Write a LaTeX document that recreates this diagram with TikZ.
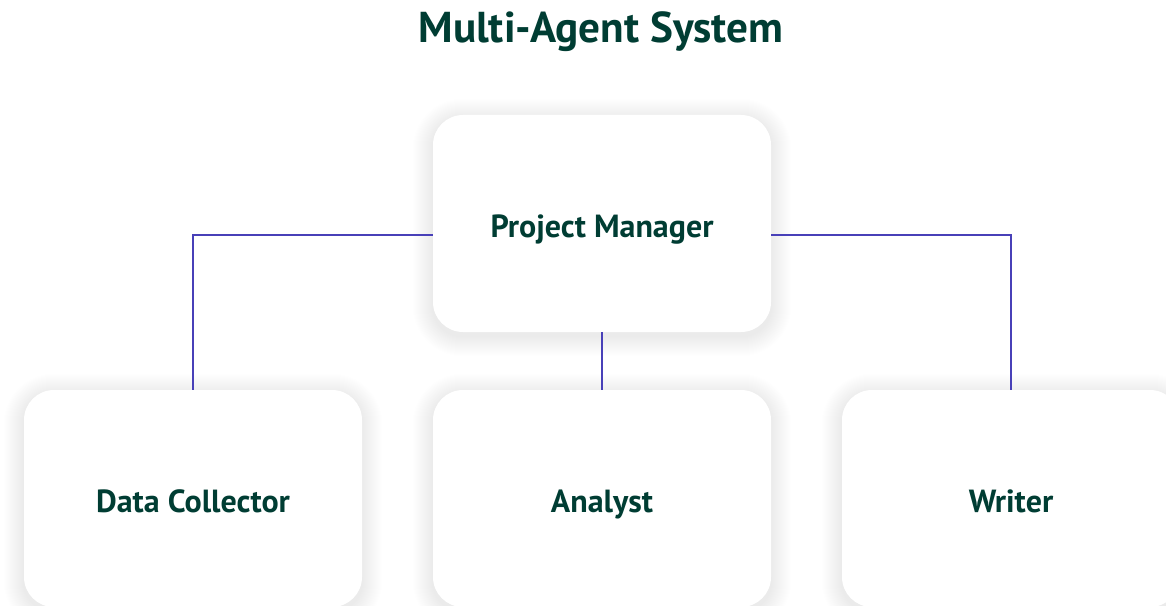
\documentclass[tikz,border=0pt]{standalone}
\usepackage{fontspec}
\setmainfont{PT Sans}
\usetikzlibrary{backgrounds,calc}
\definecolor{txt}{RGB}{0,61,51}
\definecolor{link}{RGB}{72,64,184}
\tikzset{
  agent/.style={draw=none, fill=white, rounded corners=22.5pt,
    minimum width=253.5pt, minimum height=162.75pt,
    text height=20.25pt, text depth=0pt,
    font=\bfseries\fontsize{24}{27}\selectfont, text=txt},
  conn/.style={draw=link, line width=1.5pt},
  ttl/.style={font=\bfseries\fontsize{32.4}{36}\selectfont, text=txt},
  shadowlayer/.style={fill=black, fill opacity=0.0042}
}
\newcommand{\softshadow}[1]{%
  \foreach \r in {1,...,20}{%
    \fill[shadowlayer, rounded corners={22.5pt+\r*0.75pt}]
      ($(#1.south west)+(-\r*0.75pt,-\r*0.75pt-3pt)$) rectangle
      ($(#1.north east)+(\r*0.75pt,\r*0.75pt-3pt)$);
  }}
\begin{document}
\begin{tikzpicture}[x=0.75pt, y=-0.75pt]
\useasboundingbox (0,0) rectangle (1166,606);
\node[ttl, anchor=base] (title) at (601,43) {Multi-Agent System};
\node[agent] (pm) at (602,223.5) {Project Manager};
\node[agent] (dc) at (193,498.5) {Data Collector};
\node[agent] (an) at (602,498.5) {Analyst};
\node[agent] (wr) at (1011,498.5) {Writer};
\begin{scope}[on background layer]
  \fill[white] (0,0) rectangle (1166,606);
  \softshadow{pm}
  \softshadow{dc}
  \softshadow{an}
  \softshadow{wr}
\end{scope}
\draw[conn] ([yshift=-8.6pt]pm.west) -| (dc.north);
\draw[conn] ([yshift=-8.6pt]pm.east) -| (wr.north);
\draw[conn] (pm.south) -- (an.north);
\end{tikzpicture}
\end{document}
